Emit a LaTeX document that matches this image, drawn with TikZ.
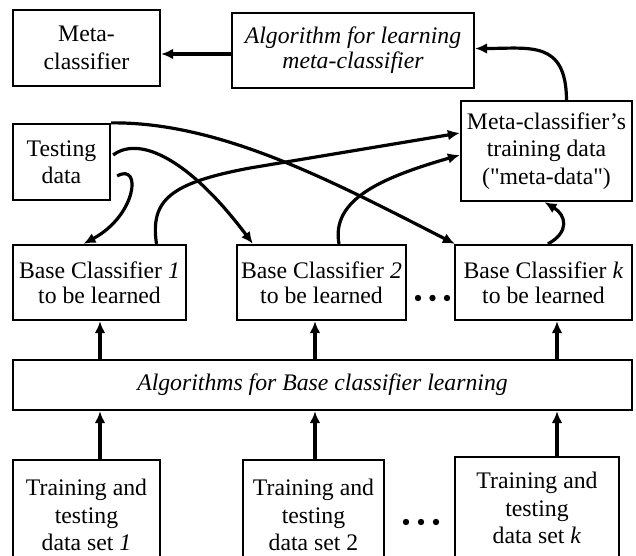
\documentclass[tikz,border=0pt]{standalone}
\usepackage{fontspec}
\setmainfont{Liberation Serif}
\usetikzlibrary{arrows.meta,calc}
\begin{document}
\begin{tikzpicture}[x=0.75pt,y=-0.75pt,
  box/.style={draw=black,line width=1.7pt,fill=white,inner sep=0pt,align=center,
    font=\fontsize{17.8}{20.5}\selectfont},
  tight/.style={font=\fontsize{17.8}{18.9}\selectfont},
  arr/.style={line width=2.4pt,-{Latex[length=9pt,width=8pt]}},
  dotc/.style={fill=black}]
\useasboundingbox (0,0) rectangle (636,556);
\clip (0,0) rectangle (636,556);
\fill[white] (0,0) rectangle (636,556);
% nodes
\node[box,minimum width=110.25pt,minimum height=57pt] (meta) at (86.5,48) {Meta-\\classifier};
\node[box,tight,minimum width=181.5pt,minimum height=56.25pt] (alg) at (353,50.5) {\itshape Algorithm for learning\\\itshape meta-classifier};
\node[box,minimum width=72.75pt,minimum height=57pt] (test) at (61.5,162) {Testing\\data};
\node[box,minimum width=128.25pt,minimum height=75pt] (mctd) at (546.5,151) {Meta-classifier’s\\training data\\(\textquotedbl meta-data\textquotedbl)};
\node[box,tight,minimum width=129.75pt,minimum height=56.25pt] (bc1) at (99.5,282.5) {Base Classifier \textit{1}\\to be learned};
\node[box,tight,minimum width=126.75pt,minimum height=56.25pt] (bc2) at (321.5,282.5) {Base Classifier \textit{2}\\to be learned};
\node[box,tight,minimum width=132.75pt,minimum height=56.25pt] (bck) at (543.5,282.5) {Base Classifier \textit{k}\\to be learned};
\node[box,minimum width=464.25pt,minimum height=37.5pt] (bar) at (322.5,385) {\itshape Algorithms for Base classifier learning};
\node[box,minimum width=110.25pt,minimum height=82.5pt] (tr1) at (86.5,515) {Training and\\testing\\data set \textit{1}};
\node[box,minimum width=105.75pt,minimum height=82.5pt] (tr2) at (313.5,515) {Training and\\testing\\data set 2};
\node[box,minimum width=123pt,minimum height=76.5pt] (trk) at (537,508) {Training and\\testing\\data set \textit{k}};
% column coordinates
\coordinate (c1) at (100,0);
\coordinate (c2) at (315,0);
\coordinate (ck) at (557,0);
% vertical arrows
\draw[arr] (tr1.north -| c1) -- (bar.south -| c1);
\draw[arr] (tr2.north -| c2) -- (bar.south -| c2);
\draw[arr] (trk.north -| ck) -- (bar.south -| ck);
\draw[arr] (bar.north -| c1) -- (bc1.south -| c1);
\draw[arr] (bar.north -| c2) -- (bc2.south -| c2);
\draw[arr] (bar.north -| ck) -- (bck.south -| ck);
% top arrows
\draw[arr] ($(alg.west)+(0,3.5)$) -- ($(meta.east)+(0,6)$);
\draw[arr] ($(mctd.north)+(20,0)$) .. controls (566,40) and (530,48.5) .. ($(alg.east)+(0,-2)$);
% testing data arrows
\draw[arr] (test.north east) .. controls (220,122) and (330,180) .. ($(bck.north west)+(1,0)$);
\draw[arr] ($(test.east)+(2,-7)$) .. controls (140,135) and (190,160) .. ($(bc2.north west)+(17,0)$);
\draw[arr] ($(test.east)+(6,14)$) .. controls (142,162) and (137,215) .. ($(bc1.north)+(-16,0)$);
% base classifiers to meta-data
\draw[arr] ($(bc1.north)+(57,0)$) .. controls (150,200) and (170,183) .. (250,168) -- ($(mctd.west)+(0,-18)$);
\draw[arr] ($(bc2.north)+(17.5,0)$) .. controls (331,200) and (380,178) .. ($(mctd.west)+(0,4)$);
\draw[arr] ($(bck.north)+(4.5,0)$) .. controls (570,232) and (566,215) .. ($(mctd.south)+(-2,0)$);
% dots
\foreach \x in {418,432.5,447} \fill[dotc] (\x,298) circle[radius=2.4pt];
\foreach \x in {406,421,436} \fill[dotc] (\x,522) circle[radius=2.4pt];
\end{tikzpicture}
\end{document}
